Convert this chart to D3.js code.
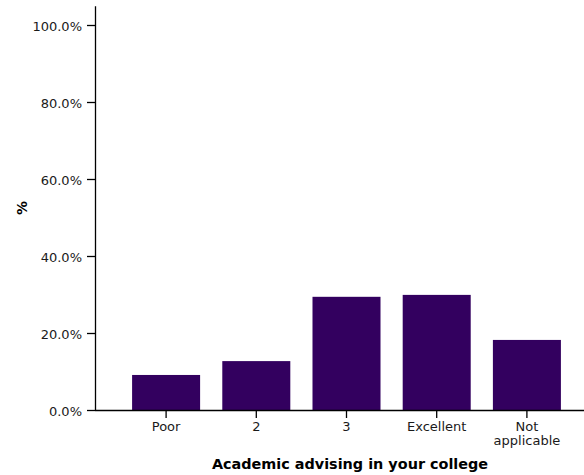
<!DOCTYPE html>
<html><head><meta charset="utf-8">
<script src="https://cdn.jsdelivr.net/npm/d3@7"></script>
<style>body{margin:0;background:#fff}svg{display:block}</style>
</head><body>
<script>
const categories = ["Poor", "2", "3", "Excellent", "Not applicable"];
const values = [0.091, 0.127, 0.294, 0.299, 0.182];
const yTicks = [0, 0.2, 0.4, 0.6, 0.8, 1.0];
const xTitle = "Academic advising in your college";
const yTitle = "%";

const W = 584, H = 475;
const font = "'DejaVu Sans', Verdana, sans-serif";
const svg = d3.select("body").append("svg").attr("width", W).attr("height", H)
  .style("font-family", font);

const x = d3.scaleBand().domain(categories).range([121, 572])
  .paddingInner(0.246).paddingOuter(0.123);
const y = d3.scaleLinear().domain([0, 1.05]).range([410, 5.75]);
const x0 = 95, x1 = 584;

svg.append("g").selectAll("rect").data(values).join("rect")
  .attr("x", (d, i) => x(categories[i]))
  .attr("width", x.bandwidth())
  .attr("y", d => y(d))
  .attr("height", d => y(0) - y(d))
  .attr("fill", "#33005f");

const gx = svg.append("g").attr("transform", `translate(0,${y(0)})`)
  .call(d3.axisBottom(x).tickSize(8).tickSizeOuter(0).tickPadding(4));
gx.select(".domain").attr("d", `M${x0},0.5H${x1}`).attr("stroke", "#000").attr("stroke-width", 1.3);
gx.selectAll(".tick line").attr("stroke", "#000").attr("stroke-width", 1.3);
gx.selectAll(".tick text").attr("font-size", 13).attr("font-family", font).attr("fill", "#1a1a1a")
  .each(function(d) {
    const words = d.split(" ");
    if (words.length > 1) {
      const t = d3.select(this).text(null);
      words.forEach((w, i) => t.append("tspan").attr("x", 0).attr("dy", i === 0 ? "0.71em" : "1.05em").text(w));
    }
  });

const gy = svg.append("g").attr("transform", `translate(${x0},0)`)
  .call(d3.axisLeft(y).tickValues(yTicks).tickFormat(d3.format(".1%")).tickSize(8).tickSizeOuter(0).tickPadding(5));
gy.select(".domain").attr("stroke", "#000").attr("stroke-width", 1.3);
gy.selectAll(".tick line").attr("stroke", "#000").attr("stroke-width", 1.3);
gy.selectAll(".tick text").attr("font-size", 13).attr("font-family", font).attr("fill", "#1a1a1a").attr("dy", "0.42em");

svg.append("text").attr("x", 350).attr("y", 469).attr("text-anchor", "middle")
  .attr("font-weight", "bold").attr("font-size", 14.4).attr("fill", "#000").text(xTitle);
svg.append("text").attr("transform", "translate(27,208) rotate(-90)").attr("text-anchor", "middle")
  .attr("font-weight", "bold").attr("font-size", 14).attr("fill", "#000").text(yTitle);
</script>
</body></html>
